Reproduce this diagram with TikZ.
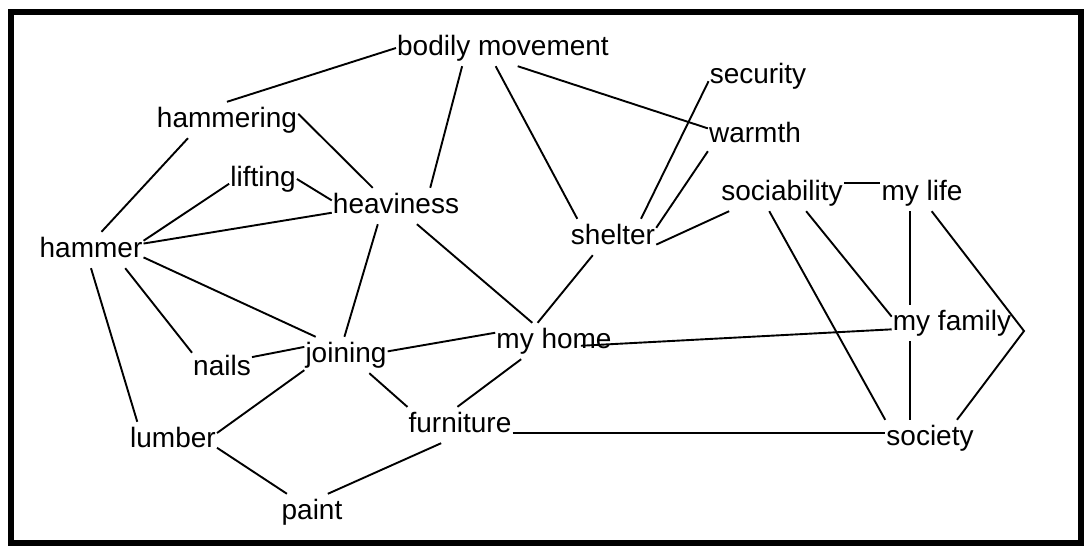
\documentclass[tikz,border=0pt]{standalone}
\usepackage{fontspec}
\setmainfont{Liberation Sans}
\begin{document}
\begin{tikzpicture}[x=1pt, y=-1pt,
  word/.style={anchor=base, inner xsep=1pt, inner ysep=5pt, text height=20pt, text depth=6pt, font=\fontsize{28}{32}\selectfont},
  wire/.style={line width=1.9pt}]
\useasboundingbox (0,0) rectangle (1086,546);
\draw[line width=6.5pt] (11,12) rectangle (1081,543);

% left cluster
\node[word] (bodily) at (503,55) {bodily movement};
\node[word] (hammering) at (227,127) {hammering};
\node[word] (lifting) at (263,186) {lifting};
\node[word] (heaviness) at (396,213) {heaviness};
\node[word] (hammer) at (91,257) {hammer};
\node[word] (nails) at (222,375) {nails};
\node[word] (joining) at (346,362) {joining};
\node[word] (lumber) at (173,447) {lumber};
\node[word] (furniture) at (460,432) {furniture};
\node[word] (paint) at (312,519) {paint};
\node[word] (myhome) at (554,348) {my home};

% right cluster
\node[word] (shelter) at (613,244) {shelter};
\node[word] (security) at (758,83) {security};
\node[word] (warmth) at (755,142) {warmth};
\node[word] (sociability) at (782,200) {sociability};
\node[word] (mylife) at (922,200) {my life};
\node[word] (myfamily) at (952,330) {my family};
\node[word] (society) at (930,445) {society};

\coordinate (bend) at (1024,331);
\coordinate (drop) at ([xshift=-12pt]mylife.south);

% links round hammer
\draw[wire] (bodily.west) -- (hammering.north);
\draw[wire] (hammering.205) -- (hammer.60);
\draw[wire] (hammering.5) -- (heaviness.142);
\draw[wire] (lifting.188) -- (hammer.10);
\draw[wire] (lifting.east) -- (heaviness.175);
\draw[wire] (heaviness.186) -- (hammer.7);
\draw[wire] (bodily.204) -- (heaviness.28);
\draw[wire] (bodily.248) -- (shelter.153);
\draw[wire] (bodily.309) -- (warmth.172);
\draw[wire] (heaviness.225) -- (joining.95);
\draw[wire] (heaviness.319) -- (myhome.140);
\draw[wire] (hammer.352) -- (joining.149);
\draw[wire] (hammer.332) -- (nails.153);
\draw[wire] (hammer.south) -- (lumber.153);
\draw[wire] (nails.20) -- (joining.169);
\draw[wire] (joining.5) -- (myhome.172);
\draw[wire] (joining.200) -- (lumber.9);
\draw[wire] (joining.322) -- (furniture.161);
\draw[wire] (myhome.209) -- (furniture.98);
\draw[wire] (lumber.350) -- (paint.144);
\draw[wire] (furniture.224) -- (paint.49);
\draw[wire] (furniture.351) -- (furniture.351 -| society.west);

% links round shelter and family
\draw[wire] (shelter.222) -- (myhome.132);
\draw[wire] (security.186) -- (shelter.33);
\draw[wire] (warmth.199) -- (shelter.12);
\draw[wire] (sociability.199) -- (shelter.350);
\draw[wire] (sociability.9) -- (sociability.9 -| mylife.west);
\draw[wire] (sociability.235) -- (society.north west);
\draw[wire] (sociability.323) -- (myfamily.174);
\draw[wire] (drop) -- (drop |- myfamily.north);
\draw[wire] (drop |- myfamily.south) -- (drop |- society.north);
\draw[wire] (mylife.298) -- (bend) -- (society.34);
\draw[wire, shorten <=-32pt] (myhome.357) -- (myfamily.186);
\end{tikzpicture}
\end{document}
